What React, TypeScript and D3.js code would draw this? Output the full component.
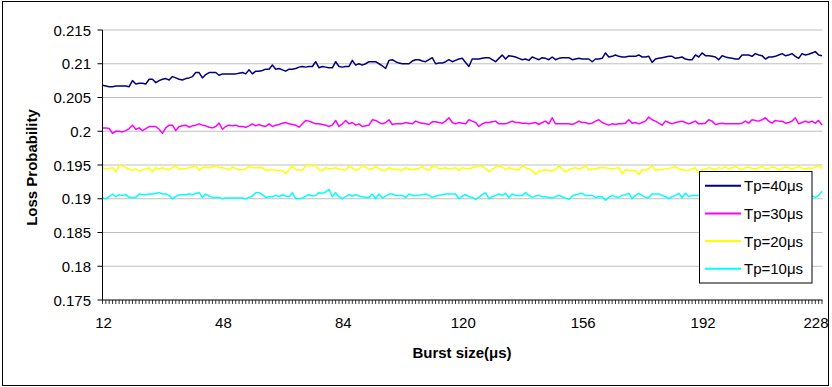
import React from "react";
import * as d3 from "d3";

// categories: burst size 12..228 µs, one per µs
const burstSizes: number[] = d3.range(12, 229);
const xTickLabels: number[] = [12, 48, 84, 120, 156, 192, 228];
const yTicks: number[] = [0.175, 0.18, 0.185, 0.19, 0.195, 0.2, 0.205, 0.21, 0.215];

const tp40: number[] = [
  0.2068,0.2067,0.2066,0.2066,0.2067,0.2067,0.2067,0.2067,0.2066,0.2075,
  0.2070,0.2071,0.2071,0.2070,0.2077,0.2077,0.2072,0.2075,0.2077,0.2078,
  0.2076,0.2081,0.2079,0.2077,0.2076,0.2078,0.2079,0.2081,0.2087,0.2087,
  0.2079,0.2084,0.2087,0.2087,0.2087,0.2083,0.2085,0.2085,0.2085,0.2085,
  0.2085,0.2086,0.2087,0.2085,0.2091,0.2085,0.2089,0.2089,0.2090,0.2092,
  0.2092,0.2098,0.2092,0.2093,0.2091,0.2089,0.2092,0.2092,0.2093,0.2095,
  0.2096,0.2095,0.2096,0.2096,0.2103,0.2094,0.2096,0.2095,0.2094,0.2094,
  0.2103,0.2096,0.2095,0.2096,0.2096,0.2105,0.2098,0.2100,0.2098,0.2100,
  0.2103,0.2103,0.2103,0.2100,0.2097,0.2093,0.2105,0.2106,0.2103,0.2101,
  0.2100,0.2100,0.2100,0.2104,0.2106,0.2106,0.2104,0.2103,0.2106,0.2109,
  0.2100,0.2101,0.2101,0.2103,0.2106,0.2103,0.2105,0.2107,0.2108,0.2102,
  0.2096,0.2107,0.2107,0.2107,0.2108,0.2109,0.2109,0.2106,0.2103,0.2108,
  0.2113,0.2107,0.2112,0.2111,0.2110,0.2108,0.2106,0.2107,0.2105,0.2110,
  0.2108,0.2106,0.2109,0.2108,0.2106,0.2110,0.2106,0.2108,0.2109,0.2109,
  0.2109,0.2106,0.2107,0.2108,0.2107,0.2107,0.2107,0.2103,0.2107,0.2107,
  0.2108,0.2116,0.2110,0.2111,0.2113,0.2111,0.2110,0.2110,0.2111,0.2111,
  0.2111,0.2113,0.2110,0.2110,0.2111,0.2102,0.2107,0.2108,0.2109,0.2110,
  0.2111,0.2111,0.2108,0.2109,0.2110,0.2107,0.2106,0.2106,0.2113,0.2110,
  0.2116,0.2112,0.2112,0.2111,0.2110,0.2106,0.2112,0.2110,0.2109,0.2108,
  0.2107,0.2107,0.2113,0.2113,0.2113,0.2111,0.2115,0.2113,0.2112,0.2107,
  0.2110,0.2110,0.2111,0.2113,0.2115,0.2112,0.2113,0.2115,0.2111,0.2108,
  0.2115,0.2113,0.2114,0.2116,0.2118,0.2113,0.2112,
];

const tp30: number[] = [
  0.2005,0.2005,0.2004,0.1997,0.2000,0.2000,0.1999,0.2001,0.2004,0.2009,
  0.2003,0.2005,0.2001,0.2004,0.2007,0.2007,0.2007,0.2003,0.1997,0.2005,
  0.2009,0.2009,0.2001,0.2007,0.2008,0.2009,0.2006,0.2008,0.2009,0.2011,
  0.2009,0.2008,0.2006,0.2005,0.2007,0.2012,0.2003,0.2007,0.2009,0.2008,
  0.2009,0.2007,0.2007,0.2006,0.2008,0.2011,0.2008,0.2010,0.2008,0.2007,
  0.2011,0.2007,0.2009,0.2010,0.2012,0.2013,0.2011,0.2010,0.2009,0.2006,
  0.2011,0.2016,0.2015,0.2013,0.2011,0.2011,0.2010,0.2009,0.2007,0.2009,
  0.2016,0.2007,0.2011,0.2016,0.2011,0.2013,0.2009,0.2011,0.2007,0.2008,
  0.2009,0.2017,0.2016,0.2013,0.2011,0.2013,0.2017,0.2010,0.2011,0.2011,
  0.2011,0.2013,0.2012,0.2011,0.2015,0.2013,0.2012,0.2011,0.2010,0.2014,
  0.2014,0.2013,0.2012,0.2015,0.2020,0.2013,0.2011,0.2013,0.2012,0.2011,
  0.2017,0.2015,0.2013,0.2007,0.2011,0.2013,0.2013,0.2014,0.2015,0.2011,
  0.2011,0.2011,0.2013,0.2015,0.2013,0.2013,0.2012,0.2012,0.2011,0.2012,
  0.2013,0.2010,0.2013,0.2015,0.2011,0.2020,0.2011,0.2011,0.2011,0.2011,
  0.2011,0.2010,0.2012,0.2015,0.2013,0.2013,0.2011,0.2012,0.2015,0.2017,
  0.2013,0.2011,0.2009,0.2011,0.2010,0.2011,0.2011,0.2012,0.2017,0.2012,
  0.2013,0.2011,0.2013,0.2015,0.2021,0.2017,0.2015,0.2012,0.2009,0.2015,
  0.2013,0.2011,0.2013,0.2014,0.2015,0.2013,0.2011,0.2013,0.2015,0.2011,
  0.2011,0.2012,0.2017,0.2015,0.2010,0.2011,0.2012,0.2011,0.2011,0.2011,
  0.2011,0.2011,0.2012,0.2015,0.2012,0.2017,0.2016,0.2015,0.2017,0.2020,
  0.2015,0.2012,0.2016,0.2015,0.2015,0.2012,0.2013,0.2015,0.2020,0.2011,
  0.2013,0.2015,0.2013,0.2015,0.2012,0.2016,0.2009,
];

const tp20: number[] = [
  0.1946,0.1944,0.1945,0.1946,0.1940,0.1949,0.1949,0.1946,0.1944,0.1942,
  0.1944,0.1941,0.1943,0.1944,0.1946,0.1940,0.1946,0.1944,0.1946,0.1944,
  0.1943,0.1946,0.1949,0.1944,0.1944,0.1945,0.1946,0.1947,0.1949,0.1942,
  0.1946,0.1947,0.1946,0.1947,0.1949,0.1946,0.1946,0.1945,0.1943,0.1947,
  0.1945,0.1943,0.1943,0.1945,0.1948,0.1946,0.1946,0.1946,0.1946,0.1942,
  0.1943,0.1943,0.1942,0.1942,0.1942,0.1937,0.1943,0.1949,0.1943,0.1943,
  0.1942,0.1949,0.1949,0.1949,0.1949,0.1943,0.1942,0.1946,0.1944,0.1945,
  0.1946,0.1944,0.1943,0.1943,0.1948,0.1946,0.1942,0.1944,0.1949,0.1947,
  0.1944,0.1944,0.1948,0.1945,0.1942,0.1942,0.1946,0.1943,0.1944,0.1943,
  0.1942,0.1946,0.1944,0.1943,0.1944,0.1945,0.1948,0.1944,0.1942,0.1948,
  0.1949,0.1944,0.1945,0.1946,0.1944,0.1945,0.1946,0.1942,0.1946,0.1945,
  0.1944,0.1946,0.1947,0.1949,0.1948,0.1945,0.1940,0.1944,0.1947,0.1949,
  0.1947,0.1943,0.1946,0.1944,0.1943,0.1943,0.1949,0.1946,0.1944,0.1942,
  0.1936,0.1941,0.1942,0.1943,0.1942,0.1942,0.1943,0.1949,0.1944,0.1940,
  0.1943,0.1945,0.1946,0.1944,0.1946,0.1949,0.1943,0.1944,0.1944,0.1946,
  0.1946,0.1946,0.1945,0.1944,0.1945,0.1946,0.1937,0.1943,0.1942,0.1942,
  0.1942,0.1936,0.1943,0.1942,0.1945,0.1949,0.1942,0.1943,0.1943,0.1944,
  0.1945,0.1946,0.1948,0.1944,0.1943,0.1942,0.1942,0.1944,0.1946,0.1937,
  0.1943,0.1944,0.1946,0.1945,0.1943,0.1946,0.1945,0.1947,0.1944,0.1946,
  0.1948,0.1945,0.1943,0.1946,0.1947,0.1945,0.1944,0.1946,0.1948,0.1944,
  0.1945,0.1947,0.1946,0.1943,0.1945,0.1947,0.1946,0.1944,0.1946,0.1948,
  0.1945,0.1944,0.1946,0.1945,0.1947,0.1949,0.1945,
];

const tp10: number[] = [
  0.1901,0.1900,0.1903,0.1907,0.1903,0.1906,0.1905,0.1906,0.1902,0.1902,
  0.1902,0.1907,0.1906,0.1906,0.1907,0.1907,0.1908,0.1909,0.1907,0.1907,
  0.1905,0.1900,0.1903,0.1906,0.1906,0.1906,0.1907,0.1906,0.1908,0.1909,
  0.1902,0.1907,0.1904,0.1902,0.1902,0.1902,0.1900,0.1901,0.1901,0.1901,
  0.1901,0.1901,0.1901,0.1900,0.1902,0.1904,0.1909,0.1909,0.1906,0.1902,
  0.1903,0.1903,0.1905,0.1903,0.1906,0.1904,0.1903,0.1909,0.1900,0.1900,
  0.1901,0.1904,0.1906,0.1904,0.1905,0.1909,0.1908,0.1910,0.1914,0.1903,
  0.1909,0.1903,0.1900,0.1903,0.1906,0.1904,0.1906,0.1904,0.1903,0.1902,
  0.1902,0.1907,0.1900,0.1907,0.1901,0.1904,0.1907,0.1907,0.1905,0.1905,
  0.1905,0.1902,0.1907,0.1905,0.1905,0.1905,0.1906,0.1907,0.1905,0.1902,
  0.1904,0.1905,0.1906,0.1907,0.1907,0.1907,0.1907,0.1900,0.1904,0.1906,
  0.1903,0.1902,0.1899,0.1902,0.1906,0.1909,0.1900,0.1903,0.1905,0.1907,
  0.1905,0.1908,0.1902,0.1907,0.1905,0.1905,0.1905,0.1909,0.1905,0.1902,
  0.1904,0.1905,0.1903,0.1903,0.1902,0.1901,0.1903,0.1905,0.1903,0.1901,
  0.1899,0.1904,0.1906,0.1907,0.1908,0.1905,0.1905,0.1905,0.1902,0.1903,
  0.1903,0.1898,0.1902,0.1905,0.1903,0.1902,0.1905,0.1906,0.1908,0.1900,
  0.1905,0.1908,0.1905,0.1902,0.1902,0.1907,0.1907,0.1907,0.1905,0.1903,
  0.1900,0.1903,0.1905,0.1908,0.1902,0.1908,0.1903,0.1905,0.1905,0.1905,
  0.1905,0.1904,0.1906,0.1903,0.1905,0.1907,0.1904,0.1902,0.1905,0.1906,
  0.1903,0.1905,0.1908,0.1904,0.1902,0.1905,0.1906,0.1904,0.1903,0.1906,
  0.1905,0.1902,0.1904,0.1907,0.1905,0.1903,0.1904,0.1906,0.1902,0.1905,
  0.1904,0.1903,0.1906,0.1904,0.1902,0.1905,0.1911,
];

const seriesNames: string[] = ["Tp=40\u03bcs", "Tp=30\u03bcs", "Tp=20\u03bcs", "Tp=10\u03bcs"];
const seriesColors: string[] = ["#000080", "#FF00FF", "#FFFF00", "#00FFFF"];
const seriesData: number[][] = [tp40, tp30, tp20, tp10];

const FONT = "'Liberation Sans', Arial, Helvetica, sans-serif";

export default function App() {
  const W = 832, H = 387;
  const left = 102.5, right = 822.5, top = 30, bottom = 300;
  const x = d3.scalePoint<number>().domain(burstSizes).range([left, right - 0.5]);
  const y = d3.scaleLinear().domain([0.175, 0.215]).range([bottom, top]);
  const line = d3
    .line<number>()
    .x((_, i) => x(burstSizes[i]) as number)
    .y((d) => y(d));

  const legX = 699.5, legY = 171.5, legW = 112.5, legH = 111.5;
  const legRow0 = 185.7, legStep = 27.7;

  return (
    <svg
      width={W}
      height={H}
      style={{ position: "absolute", left: 0, top: 0, background: "#fff" }}
      fontFamily={FONT}
    >
      <rect x={0} y={0} width={W} height={H} fill="#fff" />
      <rect x={2.5} y={1.5} width={826} height={384} fill="none" stroke="#000" strokeWidth={1} />

      {/* gridlines */}
      {yTicks.slice(1).map((t) => (
        <line key={"g" + t} x1={left} x2={right} y1={y(t)} y2={y(t)} stroke="#C0C0C0" strokeWidth={1} />
      ))}

      {/* series */}
      {seriesData.map((s, k) => (
        <path key={"s" + k} d={line(s) || ""} fill="none" stroke={seriesColors[k]} strokeWidth={1.5} strokeLinejoin="round" />
      ))}

      {/* y axis */}
      <line x1={left} x2={left} y1={top} y2={bottom} stroke="#000" strokeWidth={1} />
      {yTicks.map((t) => (
        <g key={"yt" + t}>
          <line x1={left - 5} x2={left} y1={y(t)} y2={y(t)} stroke="#000" strokeWidth={1} />
          <text x={91} y={y(t)} textAnchor="end" dominantBaseline="central" fontSize={15} fill="#000">
            {String(t)}
          </text>
        </g>
      ))}

      {/* x axis */}
      <line x1={left} x2={right} y1={bottom} y2={bottom} stroke="#000" strokeWidth={1} />
      {burstSizes.map((b) => (
        <line key={"xt" + b} x1={x(b)} x2={x(b)} y1={bottom} y2={bottom + 4} stroke="#000" strokeWidth={0.8} />
      ))}
      {xTickLabels.map((b) => (
        <text
          key={"xl" + b}
          x={Math.min((x(b) as number) + 1, 816)}
          y={328}
          textAnchor="middle"
          fontSize={15}
          fill="#000"
        >
          {b}
        </text>
      ))}

      {/* axis titles */}
      <text x={462} y={358} textAnchor="middle" fontSize={15} fontWeight="bold" fill="#000">
        Burst size(μs)
      </text>
      <text transform="translate(37,167.5) rotate(-90)" textAnchor="middle" fontSize={15} fontWeight="bold" fill="#000">
        Loss Probability
      </text>

      {/* legend */}
      <rect x={legX} y={legY} width={legW} height={legH} fill="#fff" stroke="#000" strokeWidth={1} />
      {seriesNames.map((n, k) => (
        <g key={"lg" + k}>
          <line x1={705} x2={741} y1={legRow0 + k * legStep} y2={legRow0 + k * legStep} stroke={seriesColors[k]} strokeWidth={2} />
          <text x={744} y={legRow0 + k * legStep} dominantBaseline="central" fontSize={15} fill="#000">
            {n}
          </text>
        </g>
      ))}
    </svg>
  );
}
